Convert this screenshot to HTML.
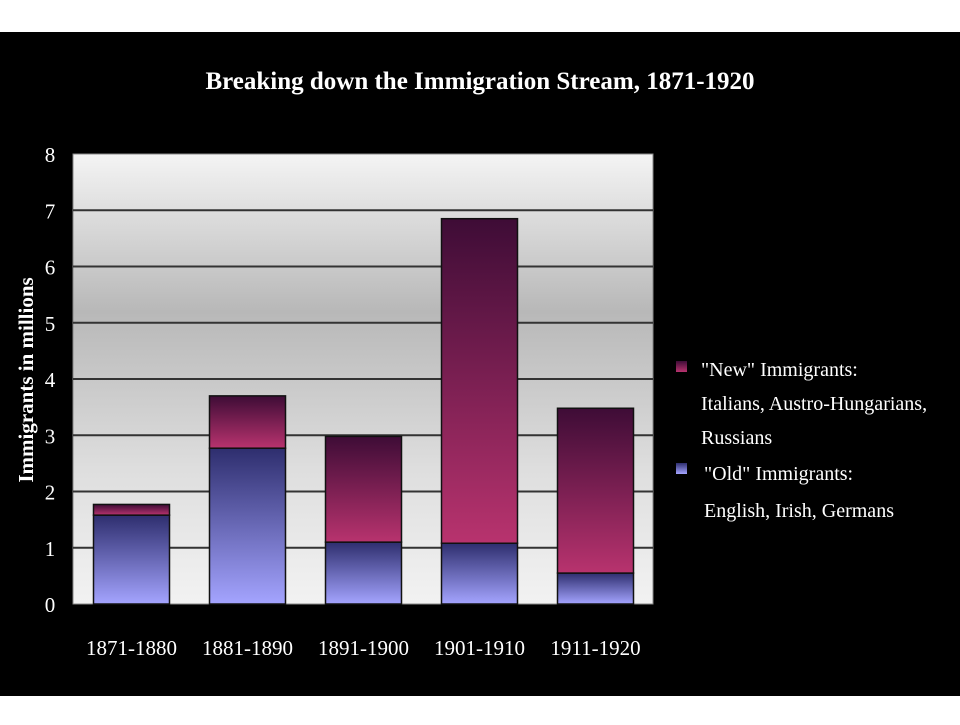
<!DOCTYPE html>
<html><head><meta charset="utf-8"><style>
body{margin:0;width:960px;height:720px;background:#fff;overflow:hidden;font-family:"Liberation Serif",serif}
</style></head><body>
<svg width="960" height="720" xmlns="http://www.w3.org/2000/svg">
<defs>
<linearGradient id="bg" x1="0" y1="0" x2="0" y2="1">
<stop offset="0" stop-color="#f4f4f4"/><stop offset="0.35" stop-color="#b8b8b8"/><stop offset="0.7" stop-color="#dedede"/><stop offset="1" stop-color="#f2f2f2"/></linearGradient>
<linearGradient id="gNew" x1="0" y1="0" x2="0" y2="1"><stop offset="0" stop-color="#3e0c36"/><stop offset="1" stop-color="#b8336e"/></linearGradient>
<linearGradient id="gOld" x1="0" y1="0" x2="0" y2="1"><stop offset="0" stop-color="#2e2e6e"/><stop offset="1" stop-color="#a4a4ff"/></linearGradient>
</defs>
<rect x="0" y="32" width="960" height="664" fill="#000"/>
<text x="480" y="89" text-anchor="middle" fill="#fff" font-size="25" font-weight="bold">Breaking down the Immigration Stream, 1871-1920</text>
<rect x="73" y="154" width="580" height="450" fill="url(#bg)" stroke="#888"/>
<g id="grid"></g><g id="bars"></g><g id="ticks"></g><g id="xlabels"></g>
<text transform="translate(33,380) rotate(-90)" text-anchor="middle" fill="#fff" font-size="21" font-weight="bold">Immigrants in millions</text>
<g>
<rect x="676" y="361" width="11" height="11" fill="url(#gNew)"/>
<text fill="#fff" font-size="20"><tspan x="701" y="376">"New" Immigrants:</tspan><tspan x="701" y="410">Italians, Austro-Hungarians,</tspan><tspan x="701" y="444">Russians</tspan></text>
<rect x="676" y="463" width="11" height="11" fill="url(#gOld)"/>
<text fill="#fff" font-size="20"><tspan x="704" y="480">"Old" Immigrants:</tspan><tspan x="704" y="517">English, Irish, Germans</tspan></text>
</g>
</svg>
<script>
const categories=["1871-1880","1881-1890","1891-1900","1901-1910","1911-1920"];
const oldValues=[1.58,2.77,1.1,1.08,0.55];
const newValues=[0.19,0.93,1.88,5.77,2.93];
const yTicks=[0,1,2,3,4,5,6,7,8];
const NS="http://www.w3.org/2000/svg";
const x0=73,pw=580,y0=604,ph=450,ymax=8;
const y=v=>y0-v/ymax*ph;
const band=pw/categories.length, bw=76;
const xc=i=>x0+band*(i+0.5)+0.5;
function mk(t,a,p){const e=document.createElementNS(NS,t);for(const k in a)e.setAttribute(k,a[k]);p.appendChild(e);return e;}
const grid=document.getElementById('grid'),bars=document.getElementById('bars'),ticks=document.getElementById('ticks'),xl=document.getElementById('xlabels');
yTicks.forEach(t=>{
 if(t>0&&t<ymax){const l=mk('line',{x1:x0,x2:x0+pw,y1:y(t),y2:y(t),stroke:'#333','stroke-width':2},grid);
 
 }
 const tx=mk('text',{x:50,y:y(t)+8,'text-anchor':'middle',fill:'#fff','font-size':21},ticks);
 tx.textContent=t;
 
 
});
categories.forEach((c,i)=>{
 const o=oldValues[i],n=newValues[i];
 const r1=mk('rect',{x:xc(i)-bw/2,y:y(o),width:bw,height:y(0)-y(o),fill:'url(#gOld)',stroke:'#111','stroke-width':1.5},bars);
 
 
 const r2=mk('rect',{x:xc(i)-bw/2,y:y(o+n),width:bw,height:y(o)-y(o+n),fill:'url(#gNew)',stroke:'#111','stroke-width':1.5},bars);
 
 
 const t=mk('text',{x:xc(i),y:655,'text-anchor':'middle',fill:'#fff','font-size':21},xl);
 t.textContent=c;
 
 
});
</script>
</body></html>
